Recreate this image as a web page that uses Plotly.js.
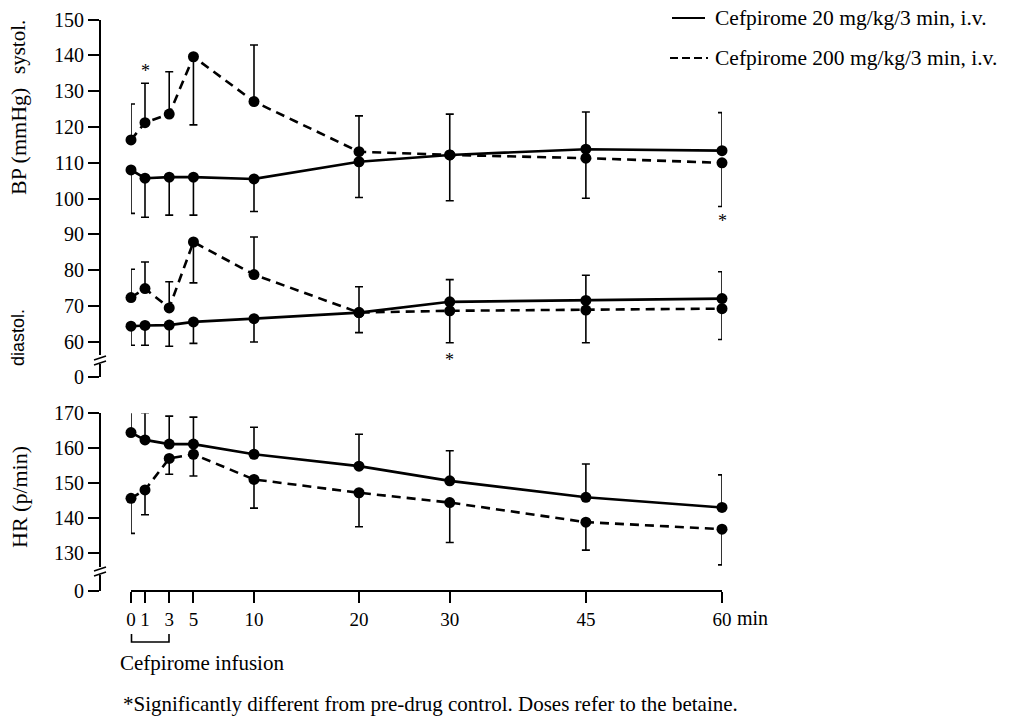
<!DOCTYPE html>
<html>
<head>
<meta charset="utf-8">
<script src="https://cdn.plot.ly/plotly-3.0.1.min.js"></script>
<style>html,body{margin:0;padding:0;background:#fff;}#chart{width:1010px;height:718px;}</style>
</head>
<body>
<div id="chart"></div>
<script>
// ---- data ----
const minutes = [0, 1, 3, 5, 10, 20, 30, 45, 60];
const tickLabels = ['0', '1', '3', '5', '10', '20', '30', '45', '60'];

// systolic BP (mmHg)
const sys20      = [108.0, 105.7, 106.0, 106.0, 105.5, 110.3, 112.2, 113.8, 113.4];
const sys20Plus  = [0, 0, 0, 0, 0, 0, 0, 10.4, 10.6];
const sys20Minus = [12.1, 10.9, 10.6, 10.6, 9.1, 10.0, 12.8, 0, 0];
const sys200      = [116.4, 121.2, 123.6, 139.6, 127.1, 113.1, 112.2, 111.3, 110.0];
const sys200Plus  = [10.0, 11.0, 11.8, 0, 15.8, 10.0, 11.4, 0, 0];
const sys200Minus = [0, 0, 0, 19.0, 0, 0, 0, 11.2, 12.2];

// diastolic BP (mmHg)
const dia20      = [64.4, 64.6, 64.7, 65.6, 66.5, 68.2, 71.2, 71.6, 72.1];
const dia20Plus  = [0, 0, 0, 0, 0, 0, 6.2, 7.0, 7.5];
const dia20Minus = [5.3, 5.5, 5.9, 6.0, 6.5, 5.6, 0, 0, 0];
const dia200      = [72.4, 74.9, 69.5, 87.9, 78.8, 68.2, 68.7, 68.9, 69.3];
const dia200Plus  = [7.9, 7.4, 7.3, 0, 10.5, 7.2, 0, 0, 0];
const dia200Minus = [0, 0, 0, 11.4, 0, 0, 8.9, 9.1, 8.6];

// heart rate (p/min)
const hr20      = [164.5, 162.4, 161.2, 161.2, 158.3, 154.9, 150.7, 146.0, 143.1];
const hr20Plus  = [6.6, 7.8, 8.0, 7.7, 7.7, 9.1, 8.6, 9.5, 9.3];
const hr200      = [145.7, 148.1, 157.1, 158.3, 151.1, 147.3, 144.5, 138.9, 136.9];
const hr200Minus = [10.0, 7.1, 4.5, 6.2, 8.2, 9.7, 11.4, 8.0, 10.2];

// significance marks: time and which bar end they sit at
const sigTimes = [1, 60, 30];
const sigPanel = ['sys200up', 'sys200down', 'dia200down'];

const legendLabels = ['Cefpirome 20 mg/kg/3 min, i.v.', 'Cefpirome 200 mg/kg/3 min, i.v.'];

// ---- non-linear time axis of the original figure (piecewise linear) ----
const scaleT = [0, 1, 10, 20, 60];
const scaleU = [0, 14, 123, 228, 591];
function warp(t) {
  for (let i = 1; i < scaleT.length; i++) {
    if (t <= scaleT[i]) {
      const f = (t - scaleT[i - 1]) / (scaleT[i] - scaleT[i - 1]);
      return scaleU[i - 1] + f * (scaleU[i] - scaleU[i - 1]);
    }
  }
  return scaleU[scaleU.length - 1];
}
const xs = minutes.map(warp);

const W = 1010, H = 718;
const px = v => v / W;
const py = v => 1 - v / H;

const SERIF = 'Liberation Serif, Times New Roman, serif';
const SANS = 'Liberation Sans, Arial, sans-serif';

function series(y, plus, minus, dashed, yaxis) {
  return {
    type: 'scatter', mode: 'lines+markers', x: xs, y: y, yaxis: yaxis,
    line: {color: 'black', width: 2.6, dash: dashed ? '9px,6px' : 'solid'},
    marker: {color: 'black', size: 11, symbol: 'circle'},
    error_y: {type: 'data', symmetric: false, array: plus, arrayminus: minus,
              color: 'black', thickness: 1.6, width: 4},
    cliponaxis: false, showlegend: false, hoverinfo: 'skip'
  };
}

const zeros = minutes.map(() => 0);
const data = [
  series(sys20, sys20Plus, sys20Minus, false, 'y'),
  series(sys200, sys200Plus, sys200Minus, true, 'y'),
  series(dia20, dia20Plus, dia20Minus, false, 'y'),
  series(dia200, dia200Plus, dia200Minus, true, 'y'),
  series(hr20, hr20Plus, zeros, false, 'y3'),
  series(hr200, zeros, hr200Minus, true, 'y3'),
  {type: 'scatter', x: [], y: [], yaxis: 'y2', showlegend: false},
  {type: 'scatter', x: [], y: [], yaxis: 'y4', showlegend: false}
];

const tickFont = {family: SERIF, size: 20, color: 'black'};
function yax(domTop, domBot, range, vals) {
  return {
    domain: [py(domBot), py(domTop)], range: range, anchor: 'free', position: px(100),
    showline: true, linecolor: 'black', linewidth: 2,
    ticks: 'outside', ticklen: 11, tickwidth: 2, tickcolor: 'black',
    tickmode: 'array', tickvals: vals, ticktext: vals.map(String),
    tickfont: tickFont, showgrid: false, zeroline: false, fixedrange: true
  };
}

// asterisk positions from bar ends
const sigY = sigPanel.map((p, i) => {
  const k = minutes.indexOf(sigTimes[i]);
  if (p === 'sys200up') return {y: sys200[k] + sys200Plus[k], ax: 'y', shift: 12};
  if (p === 'sys200down') return {y: sys200[k] - sys200Minus[k], ax: 'y', shift: -14};
  return {y: dia200[k] - dia200Minus[k], ax: 'y', shift: -17};
});

const annotations = [
  {text: 'systol.', x: px(18), y: py(47), textangle: -90, font: {family: SERIF, size: 21}},
  {text: 'BP (mmHg)', x: px(18), y: py(142), textangle: -90, font: {family: SERIF, size: 22}},
  {text: 'diastol.', x: px(18), y: py(338), textangle: -90, font: {family: SANS, size: 18}},
  {text: 'HR (p/min)', x: px(19), y: py(497), textangle: -90, font: {family: SERIF, size: 22}},
  {text: 'min', x: px(735), y: py(618), xanchor: 'left', font: {family: SERIF, size: 20}},
  {text: 'Cefpirome infusion', x: px(118), y: py(663), xanchor: 'left', font: {family: SERIF, size: 21}},
  {text: '*Significantly different from pre-drug control. Doses refer to the betaine.',
   x: px(121), y: py(704), xanchor: 'left', font: {family: SERIF, size: 21}},
  {text: legendLabels[0], x: px(713), y: py(18), xanchor: 'left', font: {family: SERIF, size: 21.5}},
  {text: legendLabels[1], x: px(713), y: py(58), xanchor: 'left', font: {family: SERIF, size: 21.5}}
].map(a => Object.assign({xref: 'paper', yref: 'paper', showarrow: false, yanchor: 'middle',
  xanchor: 'center'}, a, {font: Object.assign({color: 'black'}, a.font)}));

sigY.forEach((s, i) => {
  annotations.push({text: '*', xref: 'x', yref: s.ax, x: warp(sigTimes[i]), y: s.y,
    yshift: s.shift, showarrow: false, font: {family: SERIF, size: 18, color: 'black'}});
});

const lineStyle = {color: 'black', width: 1.6};
const shapes = [
  // axis breaks
  {type: 'line', xref: 'paper', yref: 'paper', x0: px(94), y0: py(360), x1: px(106), y1: py(356), line: lineStyle},
  {type: 'line', xref: 'paper', yref: 'paper', x0: px(94), y0: py(365), x1: px(106), y1: py(361), line: lineStyle},
  {type: 'line', xref: 'paper', yref: 'paper', x0: px(94), y0: py(571), x1: px(106), y1: py(567), line: lineStyle},
  {type: 'line', xref: 'paper', yref: 'paper', x0: px(94), y0: py(576), x1: px(106), y1: py(572), line: lineStyle},
  // infusion bracket
  {type: 'path', xref: 'paper', yref: 'paper',
   path: `M ${px(131.5)} ${py(634)} L ${px(131.5)} ${py(642)} L ${px(169)} ${py(642)} L ${px(169)} ${py(634)}`,
   line: lineStyle},
  // legend samples
  {type: 'line', xref: 'paper', yref: 'paper', x0: px(672), y0: py(18), x1: px(705), y1: py(18),
   line: {color: 'black', width: 2}},
  {type: 'line', xref: 'paper', yref: 'paper', x0: px(670), y0: py(58), x1: px(708), y1: py(58),
   line: {color: 'black', width: 2, dash: '8px,4px'}}
];

const layout = {
  width: W, height: H, margin: {l: 0, r: 0, t: 0, b: 0},
  paper_bgcolor: 'white', plot_bgcolor: 'rgba(0,0,0,0)', showlegend: false,
  xaxis: {
    domain: [px(131), px(722)], range: [0, 591], anchor: 'free', position: py(591),
    showline: true, linecolor: 'black', linewidth: 2,
    ticks: 'outside', ticklen: 11, tickwidth: 2, tickcolor: 'black',
    tickmode: 'array', tickvals: xs, ticktext: tickLabels, tickfont: {family: SERIF, size: 19, color: 'black'},
    showgrid: false, zeroline: false, fixedrange: true
  },
  yaxis: yax(19.5, 354.5, [56.5, 150], [60, 70, 80, 90, 100, 110, 120, 130, 140, 150]),
  yaxis2: yax(364, 377, [0, 3.63], [0]),
  yaxis3: yax(413.3, 567.3, [126, 170], [130, 140, 150, 160, 170]),
  yaxis4: yax(575, 591, [0, 4.57], [0]),
  annotations: annotations,
  shapes: shapes
};

Plotly.newPlot('chart', data, layout, {staticPlot: true, displayModeBar: false});
</script>
</body>
</html>
